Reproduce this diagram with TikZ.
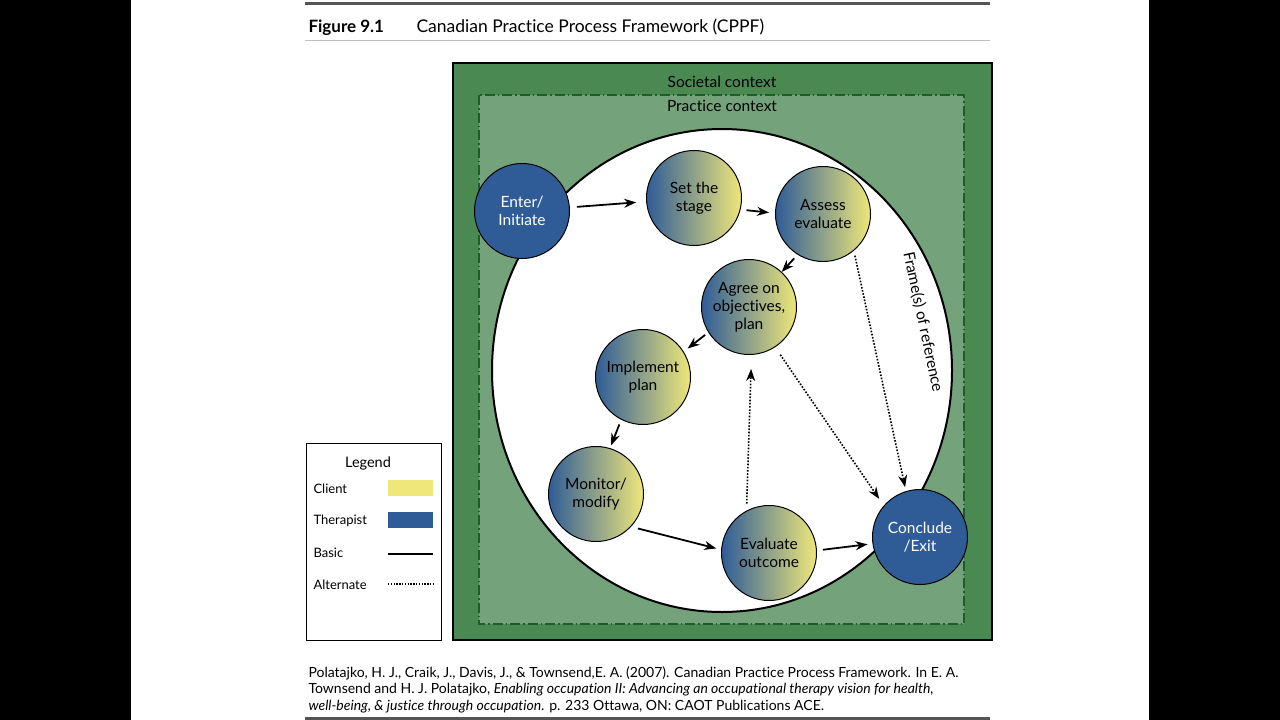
\documentclass[tikz,border=0pt]{standalone}
\usepackage{fontspec}
\setmainfont{Lato}[Ligatures=NoCommon]
\usetikzlibrary{arrows.meta}
\definecolor{societal}{HTML}{4A8A52}
\definecolor{practice}{HTML}{74A37B}
\definecolor{dashgreen}{HTML}{1E5C2A}
\definecolor{therapist}{HTML}{2F5C97}
\definecolor{client}{HTML}{EFE77A}
\definecolor{rulegrey}{HTML}{555555}

\begin{document}
\begin{tikzpicture}[x=1pt, y=-1pt,
  every node/.style={font=\fontsize{15.5}{18}\selectfont, align=center},
  phase/.style={circle, draw=black, line width=1pt, minimum size=95pt, inner sep=0pt, left color=therapist, right color=client, text=black},
  endpoint/.style={circle, draw=black, line width=1pt, minimum size=95pt, inner sep=0pt, fill=therapist, text=white},
  basicarr/.style={-{Stealth[length=12pt, width=9pt]}, line width=1.8pt},
  altarr/.style={-{Stealth[length=12pt, width=9pt]}, line width=1.6pt, dash pattern=on 1.6pt off 1.6pt},
  legendtext/.style={font=\fontsize{13}{15}\selectfont, anchor=west},
  citetext/.style={font=\fontsize{14}{17}\selectfont, anchor=base west}
]
\useasboundingbox (0,0) rectangle (1280,720);
% page
\fill[black] (0,0) rectangle (1280,720);
\fill[white] (131,0) rectangle (1149,720);
\draw[rulegrey, line width=3pt] (305,3) -- (990,3);
\draw[black!25, line width=1pt] (305,40) -- (990,40);
\draw[rulegrey, line width=3pt] (305,718) -- (990,718);
\node[anchor=base west, font=\bfseries\fontsize{17}{20}\selectfont] (fignum) at (305,32) {Figure 9.1};
\node[anchor=base west, font=\fontsize{17.5}{20}\selectfont] (figtitle) at (413,32) {Canadian Practice Process Framework (CPPF)};

% contexts
\draw[fill=societal, line width=2pt] (453,63) rectangle (992,640);
\draw[fill=practice, draw=dashgreen, dash pattern=on 10pt off 3pt on 1.5pt off 3pt, line width=1.2pt] (479,95) rectangle (964,624);
\node (societal) at (722,82) {Societal context};
\node (practice) at (722,106) {Practice context};
\draw[fill=white, line width=2pt] (722,370.5) ellipse [x radius=230, y radius=241.5];
\node[rotate=-78] (frames) at (923,322) {Frame(s) of reference};

% process
\node[endpoint] (enter) at (522,211) {Enter/\\Initiate};
\node[phase] (stage) at (694,198) {Set the\\stage};
\node[phase] (assess) at (823,214) {Assess\\evaluate};
\node[phase] (agree) at (749,307) {Agree on\\objectives,\\plan};
\node[phase] (implement) at (643,377) {Implement\\plan};
\node[phase] (monitor) at (596,494) {Monitor/\\modify};
\node[phase] (evaluate) at (769,553) {Evaluate\\outcome};
\node[endpoint] (conclude) at (920,537) {Conclude\\/Exit};

\draw[basicarr, shorten <=7pt, shorten >=10pt] (enter) -- (stage);
\draw[basicarr, shorten <=6pt, shorten >=6pt] (stage.-14) -- (assess.179);
\draw[basicarr, shorten <=5pt] (assess.-122) -- (agree.47);
\draw[basicarr, shorten <=4pt, shorten >=5pt] (agree.-148) -- (implement.32);
\draw[basicarr, shorten <=5pt, shorten >=3pt] (implement.-117) -- (monitor.73);
\draw[basicarr, shorten <=7pt, shorten >=5pt] (monitor.-43) -- (evaluate.176);
\draw[basicarr, shorten <=6pt, shorten >=5pt] (evaluate.3) -- (conclude.-172);
\draw[altarr, shorten <=5pt, shorten >=4pt] (assess.-50) -- (conclude.107);
\draw[altarr, shorten <=9pt, shorten >=8pt] (agree.-57) -- (conclude.139);
\draw[altarr, shorten <=7pt, shorten >=14pt] (evaluate.118) -- (agree.-87);

% legend
\draw[line width=0.8pt] (306,443) rectangle (441,640);
\node[font=\fontsize{14.5}{16}\selectfont] (legendtitle) at (368,463) {Legend};
\node[legendtext] (clientlbl) at (310,489) {Client};
\fill[client] (388,480) rectangle (433,496);
\node[legendtext] (therapistlbl) at (310,521) {Therapist};
\fill[therapist] (388,512) rectangle (433,528);
\node[legendtext] (basiclbl) at (310,553) {Basic};
\draw[line width=1.8pt] (388,554) -- (433,554);
\node[legendtext] (alternatelbl) at (310,585) {Alternate};
\draw[line width=1.4pt, dash pattern=on 1.4pt off 1.4pt] (388,584) -- (433,584);

% source
\node[citetext] (cite1) at (305,677) {Polatajko, H. J., Craik, J., Davis, J., \& Townsend,E. A. (2007). Canadian Practice Process Framework. In E. A.};
\node[citetext] (cite2) at (305,693) {Townsend and H. J. Polatajko, \textit{Enabling occupation II: Advancing an occupational therapy vision for health,}};
\node[citetext] (cite3) at (305,710) {\textit{well-being, \& justice through occupation}. p. 233 Ottawa, ON: CAOT Publications ACE.};
\end{tikzpicture}
\end{document}
